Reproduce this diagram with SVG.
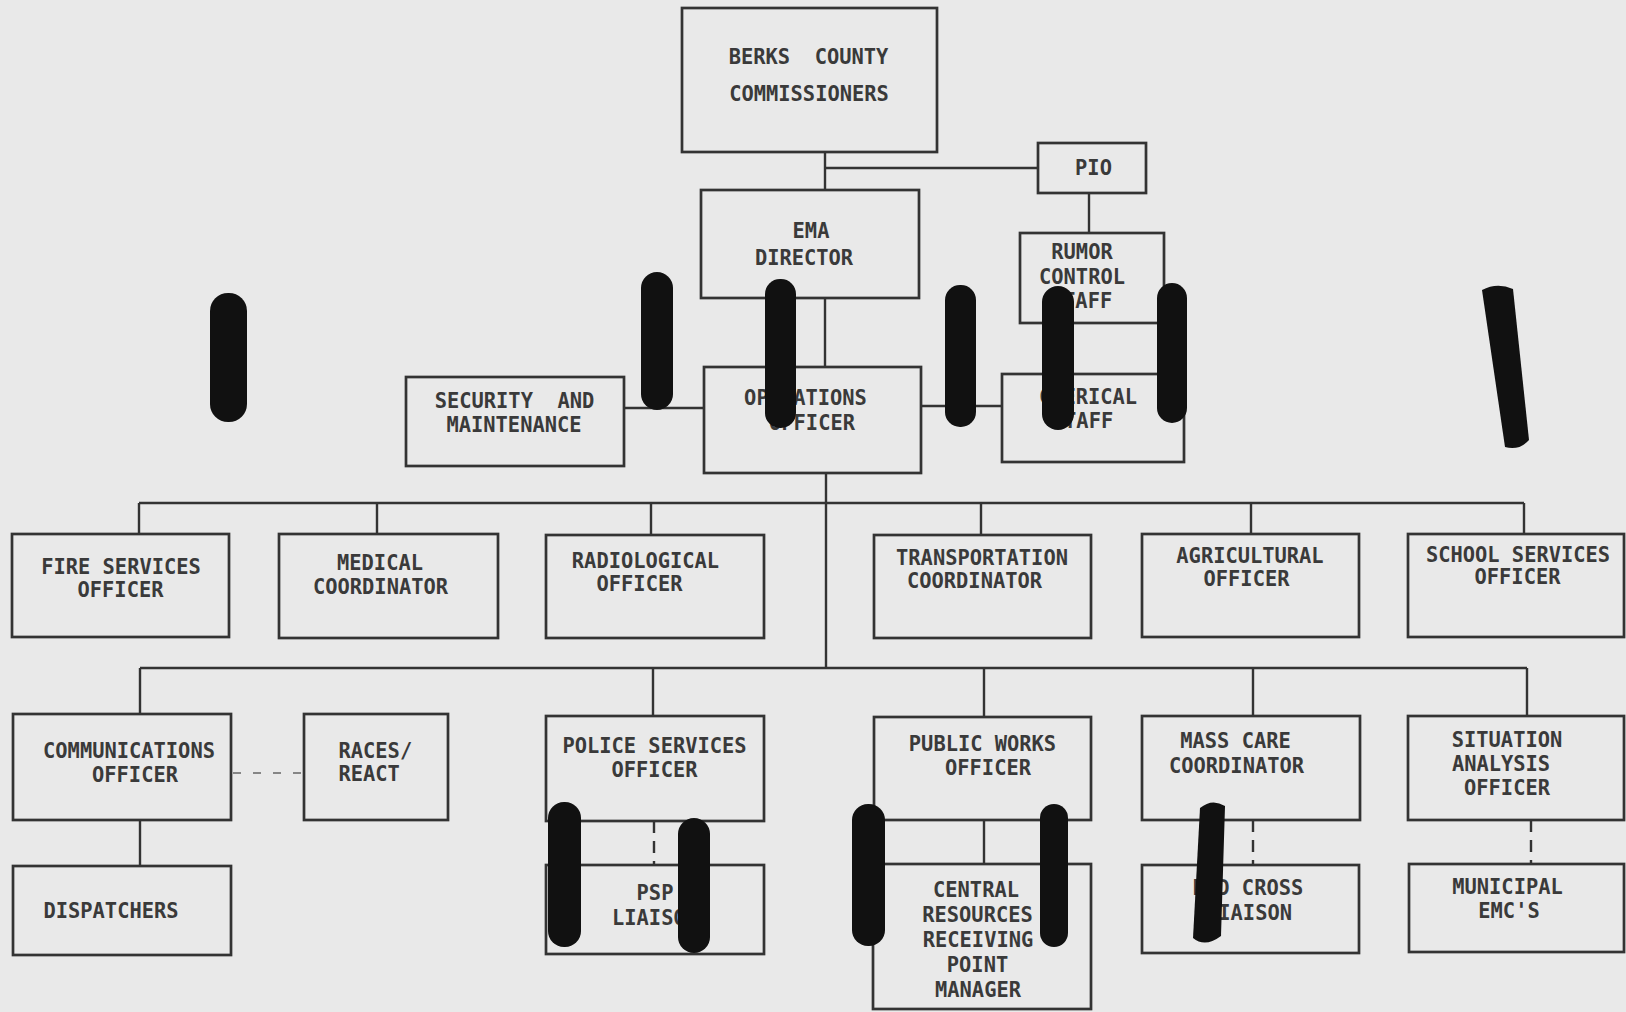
<svg xmlns="http://www.w3.org/2000/svg" width="1626" height="1012" viewBox="0 0 1626 1012">
<style>
.bg{fill:#e9e9e9}
.box{fill:none;stroke:#333333;stroke-width:2.7}
.ln{fill:none;stroke:#333333;stroke-width:2.4}
.dv{stroke-dasharray:12 8}
.dh{stroke:#666666;stroke-width:1.7;stroke-dasharray:8 12}
.t{font-family:'DejaVu Sans Mono','Liberation Mono',monospace;font-size:20.4px;font-weight:bold;fill:#3a3a3a;text-anchor:middle}
.ts{text-anchor:start}
.blob{fill:#111111}
</style>
<rect class="bg" x="0" y="0" width="1626" height="1012"/>

<g id="connectors">
  <path class="ln" d="M825 152V190"/>
  <path class="ln" d="M825 168H1038"/>
  <path class="ln" d="M1089 193V233"/>
  <path class="ln" d="M825 298V367"/>
  <path class="ln" d="M624 408H704"/>
  <path class="ln" d="M921 406H1002"/>
  <path class="ln" d="M826 473V668"/>
  <path class="ln" d="M139 503H1524"/>
  <path class="ln" d="M139 503V534M377 503V534M651 503V535M981 503V535M1251 503V534M1524 503V534"/>
  <path class="ln" d="M140 668H1527"/>
  <path class="ln" d="M140 668V714M653 668V716M984 668V717M1253 668V716M1527 668V716"/>
  <path class="ln" d="M140 820V866"/>
  <path class="ln" d="M984 820V864"/>
  <path class="ln dv" d="M654 821V865"/>
  <path class="ln dv" d="M1253 820V865"/>
  <path class="ln dv" d="M1531 820V864"/>
  <path class="ln dh" d="M233 773H304"/>
</g>

<g id="berks">
  <rect class="box" x="682" y="8" width="255" height="144"/>
  <text class="t" x="808.5" y="64" xml:space="preserve">BERKS  COUNTY</text>
  <text class="t" x="809" y="101">COMMISSIONERS</text>
</g>
<g id="pio">
  <rect class="box" x="1038" y="143" width="108" height="50"/>
  <text class="t" x="1093.5" y="175">PIO</text>
</g>
<g id="ema">
  <rect class="box" x="701" y="190" width="218" height="108"/>
  <text class="t" x="811" y="238">EMA</text>
  <text class="t" x="804" y="265">DIRECTOR</text>
</g>
<g id="rumor">
  <rect class="box" x="1020" y="233" width="144" height="90"/>
  <text class="t" x="1082" y="259">RUMOR</text>
  <text class="t" x="1082" y="284">CONTROL</text>
  <text class="t" x="1081.5" y="308">STAFF</text>
</g>
<g id="security">
  <rect class="box" x="406" y="377" width="218" height="89"/>
  <text class="t" x="514.5" y="408" xml:space="preserve">SECURITY  AND</text>
  <text class="t" x="514" y="432">MAINTENANCE</text>
</g>
<g id="operations">
  <rect class="box" x="704" y="367" width="217" height="106"/>
  <text class="t" x="805.5" y="405">OPERATIONS</text>
  <text class="t" x="812" y="430">OFFICER</text>
</g>
<g id="clerical">
  <rect class="box" x="1002" y="374" width="182" height="88"/>
  <text class="t" x="1088" y="404">CLERICAL</text>
  <text class="t" x="1082.5" y="428">STAFF</text>
</g>

<g id="fire">
  <rect class="box" x="12" y="534" width="217" height="103"/>
  <text class="t" x="121" y="574">FIRE SERVICES</text>
  <text class="t" x="120.5" y="597">OFFICER</text>
</g>
<g id="medical">
  <rect class="box" x="279" y="534" width="219" height="104"/>
  <text class="t" x="380" y="570">MEDICAL</text>
  <text class="t" x="380.5" y="594">COORDINATOR</text>
</g>
<g id="radiological">
  <rect class="box" x="546" y="535" width="218" height="103"/>
  <text class="t" x="645.5" y="568">RADIOLOGICAL</text>
  <text class="t" x="639.5" y="591">OFFICER</text>
</g>
<g id="transportation">
  <rect class="box" x="874" y="535" width="217" height="103"/>
  <text class="t" x="982" y="565">TRANSPORTATION</text>
  <text class="t" x="974.5" y="588">COORDINATOR</text>
</g>
<g id="agricultural">
  <rect class="box" x="1142" y="534" width="217" height="103"/>
  <text class="t" x="1250" y="563">AGRICULTURAL</text>
  <text class="t" x="1246.5" y="586">OFFICER</text>
</g>
<g id="school">
  <rect class="box" x="1408" y="534" width="216" height="103"/>
  <text class="t" x="1518" y="562">SCHOOL SERVICES</text>
  <text class="t" x="1517.5" y="584">OFFICER</text>
</g>

<g id="communications">
  <rect class="box" x="13" y="714" width="218" height="106"/>
  <text class="t" x="129" y="758">COMMUNICATIONS</text>
  <text class="t" x="135" y="782">OFFICER</text>
</g>
<g id="races">
  <rect class="box" x="304" y="714" width="144" height="106"/>
  <text class="t ts" x="338.5" y="758">RACES/</text>
  <text class="t ts" x="338.5" y="781">REACT</text>
</g>
<g id="police">
  <rect class="box" x="546" y="716" width="218" height="105"/>
  <text class="t" x="654.5" y="753">POLICE SERVICES</text>
  <text class="t" x="654.5" y="777">OFFICER</text>
</g>
<g id="publicworks">
  <rect class="box" x="874" y="717" width="217" height="103"/>
  <text class="t" x="982.5" y="751">PUBLIC WORKS</text>
  <text class="t" x="988" y="775">OFFICER</text>
</g>
<g id="masscare">
  <rect class="box" x="1142" y="716" width="218" height="104"/>
  <text class="t" x="1235.5" y="748">MASS CARE</text>
  <text class="t" x="1236.5" y="773">COORDINATOR</text>
</g>
<g id="situation">
  <rect class="box" x="1408" y="716" width="216" height="104"/>
  <text class="t" x="1507" y="747">SITUATION</text>
  <text class="t" x="1501" y="771">ANALYSIS</text>
  <text class="t" x="1507" y="795">OFFICER</text>
</g>

<g id="dispatchers">
  <rect class="box" x="13" y="866" width="218" height="89"/>
  <text class="t" x="111" y="918">DISPATCHERS</text>
</g>
<g id="psp">
  <rect class="box" x="546" y="865" width="218" height="89"/>
  <text class="t" x="655" y="900">PSP</text>
  <text class="t" x="655" y="925">LIAISON</text>
</g>
<g id="central">
  <rect class="box" x="873" y="864" width="218" height="145"/>
  <text class="t" x="976" y="897">CENTRAL</text>
  <text class="t" x="977.5" y="922">RESOURCES</text>
  <text class="t" x="978" y="947">RECEIVING</text>
  <text class="t" x="977.5" y="972">POINT</text>
  <text class="t" x="978" y="997">MANAGER</text>
</g>
<g id="redcross">
  <rect class="box" x="1142" y="865" width="217" height="88"/>
  <text class="t" x="1248" y="895">RED CROSS</text>
  <text class="t" x="1249" y="920">LIAISON</text>
</g>
<g id="municipal">
  <rect class="box" x="1409" y="864" width="215" height="88"/>
  <text class="t" x="1507.5" y="894">MUNICIPAL</text>
  <text class="t" x="1509" y="918">EMC'S</text>
</g>

<g id="redaction-marks">
  <rect class="blob" x="210" y="293" width="37" height="129" rx="18"/>
  <rect class="blob" x="641" y="272" width="32" height="138" rx="16"/>
  <rect class="blob" x="765" y="279" width="31" height="149" rx="15"/>
  <rect class="blob" x="945" y="285" width="31" height="142" rx="15"/>
  <rect class="blob" x="1042" y="286" width="32" height="144" rx="16"/>
  <rect class="blob" x="1157" y="283" width="30" height="140" rx="15"/>
  <path class="blob" d="M1482 290Q1497 282 1513 289L1529 440Q1519 451 1505 447Z"/>
  <rect class="blob" x="548" y="802" width="33" height="145" rx="16"/>
  <rect class="blob" x="678" y="818" width="32" height="135" rx="16"/>
  <rect class="blob" x="852" y="804" width="33" height="142" rx="16"/>
  <rect class="blob" x="1040" y="804" width="28" height="143" rx="14"/>
  <path class="blob" d="M1200 808Q1212 798 1225 806L1221 936Q1205 948 1193 938Z"/>
</g>
</svg>
